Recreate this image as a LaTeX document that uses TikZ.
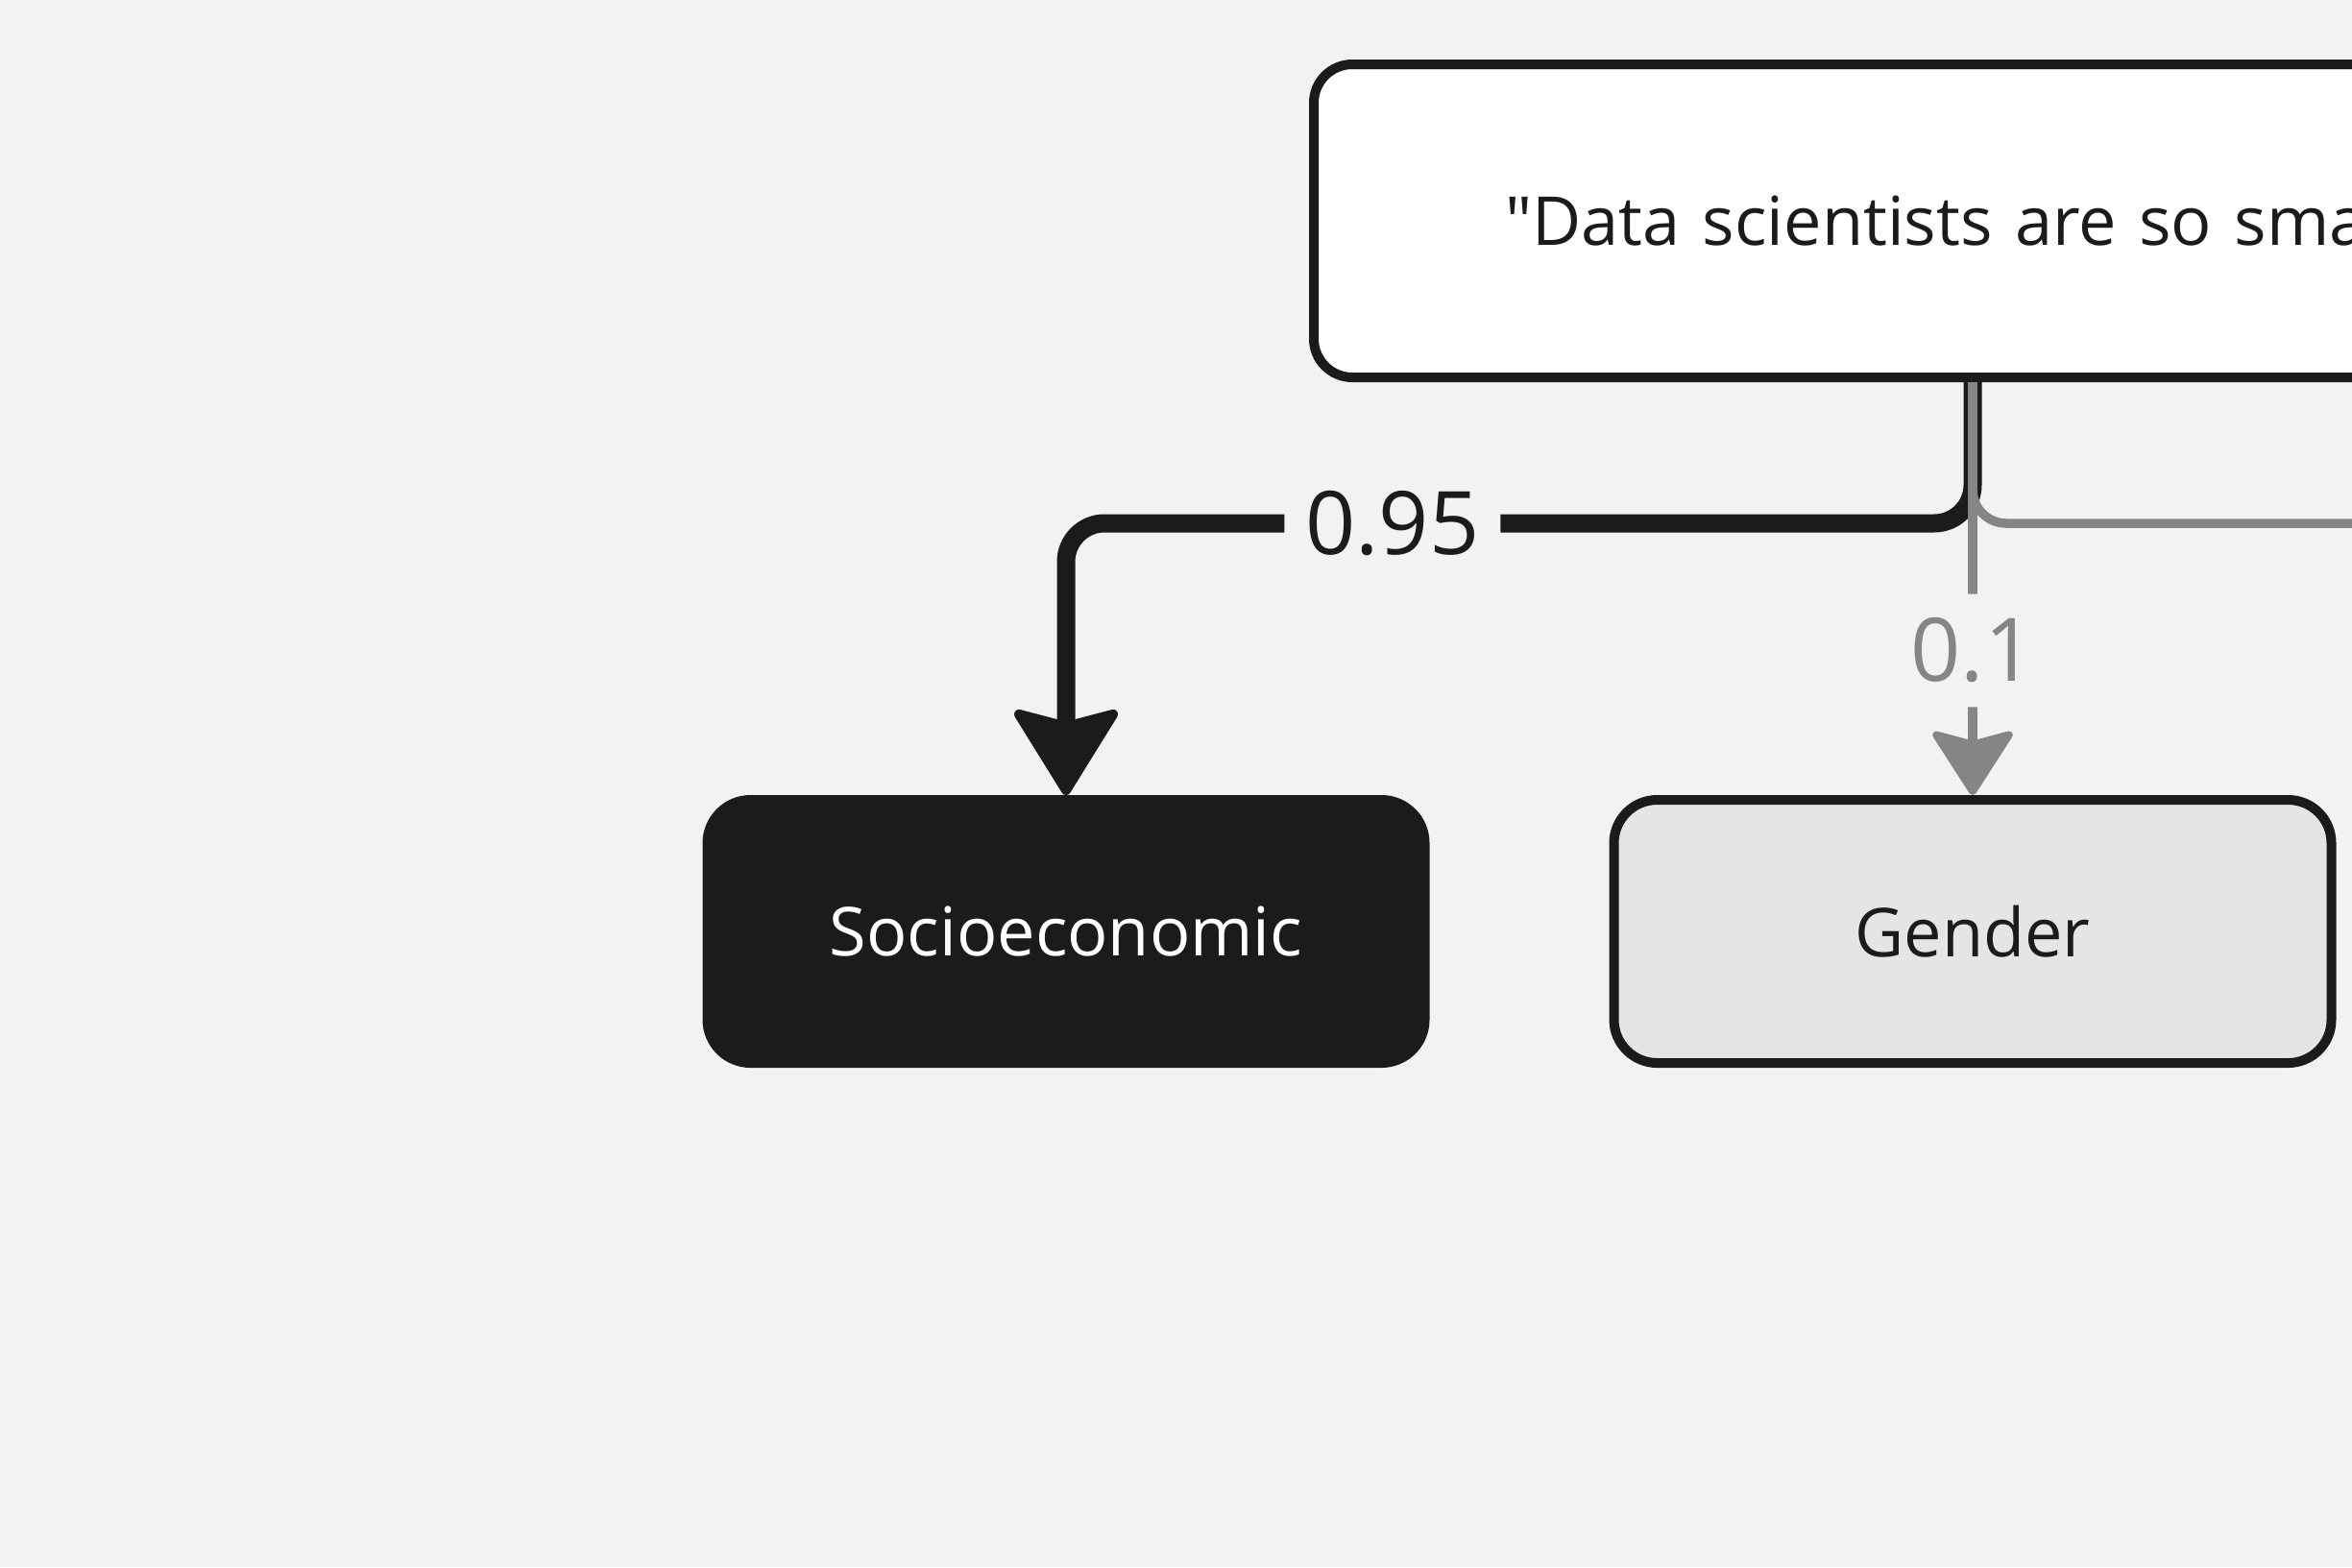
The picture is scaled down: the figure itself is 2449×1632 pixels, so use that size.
\documentclass[tikz,border=0pt]{standalone}
\usepackage{fontspec}
\setmainfont{Open Sans}
\usetikzlibrary{arrows.meta,positioning,calc}
\definecolor{ink}{HTML}{1B1B1B}
\definecolor{wire}{HTML}{858585}
\definecolor{paper}{HTML}{F2F2F2}
\definecolor{pale}{HTML}{E5E5E5}

\begin{document}
\begin{tikzpicture}[x=0.1mm,y=-0.1mm,
    box/.style={draw=ink, line width=1mm, rounded corners=4.5mm, minimum width=74.7mm, minimum height=27.4mm, font=\fontsize{20}{24}\selectfont},
    claimbox/.style={draw=ink, fill=white, line width=1mm, rounded corners=4mm, minimum height=32.6mm, text width=120mm, align=left, inner xsep=19.9mm, text=ink, font=\fontsize{20}{24}\selectfont},
    strong/.style={draw=ink, line width=1.9mm, rounded corners=4mm, -{Stealth[length=9.6mm,width=11.8mm,inset=1.5mm,round,line width=1mm]}},
    weak/.style={draw=wire, line width=0.95mm, rounded corners=3.5mm},
    weight/.style={fill=paper, inner xsep=2.2mm, inner ysep=2.5mm, font=\fontsize{26}{30}\selectfont}]
    \useasboundingbox (0,0) rectangle (2449,1632);
    \fill[paper] (0,0) rectangle (2449,1632);
    \clip (0,0) rectangle (2449,1632);
    % boxes
    \node[claimbox, anchor=north west] (claim) at (1363,62) {\textquotedbl Data scientists are so sma};
    \node[box, fill=ink, text=white] (socio) at (1110,970) {Socioeconomic};
    \node[box, fill=pale, text=ink] (gender) at (2054,970) {Gender};
    \coordinate (offright) at (2520,545);
    % links
    \draw[strong] (gender.north |- claim.south) -- ++(0,147) -| node[weight, text=ink, pos=0.32] {0.95} (socio.north);
    \draw[weak, -{Stealth[length=7.2mm,width=9.2mm,inset=1.2mm,round,line width=0.8mm]}] (gender.north |- claim.south) -- node[weight, text=wire, pos=0.65] {0.1} (gender.north);
    \draw[weak] (gender.north |- claim.south) |- (offright);
\end{tikzpicture}
\end{document}
